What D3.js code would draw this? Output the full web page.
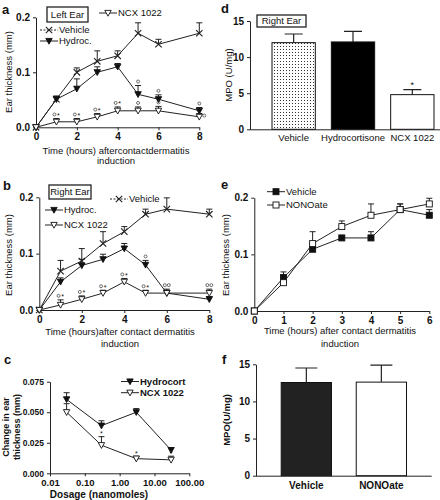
<!DOCTYPE html>
<html><head><meta charset="utf-8">
<script src="https://cdn.jsdelivr.net/npm/d3@7"></script>
<style>body{margin:0;background:#fff} text{font-family:"Liberation Sans",Arial,Helvetica,sans-serif;fill:#111}</style>
</head><body><svg id="c" width="440" height="500"></svg>
<script>
// ---------- DATA ----------
const hoursAB = [0,1,2,3,4,5,6,8];
const aVehicle    = [0,0.051,0.10,0.12,0.13,0.171,0.151,0.171];
const aVehicleErr = [0,0.057,0.108,0.139,0.139,0.19,0.16,0.19];
const aHydro      = [0,0.051,0.07,0.10,0.11,0.06,0.051,0.03];
const aHydroErr   = [0,0.055,0.088,0.11,0.116,0.076,0.059,0.036];
const aNcx        = [0,0.01,0.01,0.019,0.03,0.03,0.03,0.019];
const aNcxErr     = [0,0.016,0.016,0.025,0.037,0.037,0.038,0.025];
const aNcxMarks   = ["","○*","○*","○*","○*","○","○","○"];
const aHydroMarks = ["","","","","","○","○","○"];

const bVehicle    = [0,0.069,0.087,0.118,0.139,0.17,0.179,0.17];
const bVehicleErr = [0,0.088,0.109,0.139,0.148,0.179,0.199,0.179];
const bHydro      = [0,0.05,0.079,0.09,0.109,0.08,0.03,0.019];
const bHydroErr   = [0,0.057,0.09,0.099,0.118,0.088,0.035,0.024];
const bNcx        = [0,0.009,0.019,0.03,0.05,0.03,0.03,0.03];
const bNcxErr     = [0,0.018,0.025,0.035,0.056,0.035,0.037,0.037];
const bNcxMarks   = ["","○*","○*","○*","○*","○*","○○","○○"];
const bHydroMarks = ["","","","","","○","",""];

const dosages     = [0.03,0.3,3,30];
const cHydro      = [0.0605,0.039,0.050,0.019];
const cHydroErr   = [0.066,0.043,0.053,0.021];
const cNcx        = [0.050,0.023,0.012,0.011];
const cNcxErr     = [0.057,0.030,0.014,0.014];
const cNcxMarks   = ["","*","*","*"];

const dCategories = ["Vehicle","Hydrocortisone","NCX 1022"];
const dValues     = [12.0,12.1,4.8];
const dErr        = [13.2,13.55,5.5];
const dMarks      = ["","","*"];

const hoursE      = [0,1,2,3,4,5,6];
const eVehicle    = [0,0.059,0.109,0.129,0.129,0.179,0.169];
const eVehicleErr = [0,0.069,0.112,0.132,0.14,0.189,0.179];
const eNono       = [0,0.05,0.119,0.149,0.169,0.179,0.189];
const eNonoErr    = [0,0.053,0.14,0.159,0.189,0.189,0.199];

const fCategories = ["Vehicle","NONOate"];
const fValues     = [12.55,12.6];
const fErr        = [14.5,14.9];

// ---------- HELPERS ----------
const svg = d3.select("#c");
const defs = svg.append("defs");
const pat = defs.append("pattern").attr("id","dots").attr("width",3).attr("height",3).attr("patternUnits","userSpaceOnUse");
pat.append("rect").attr("width",3).attr("height",3).attr("fill","#fff");
pat.append("rect").attr("x",1).attr("y",1).attr("width",1).attr("height",1).attr("fill","#333");

function marker(g, type, cx, cy) {
  const s = 3.2;
  if (type === "x") {
    g.append("path").attr("d",`M${cx-s},${cy-s}L${cx+s},${cy+s}M${cx-s},${cy+s}L${cx+s},${cy-s}`)
      .attr("stroke","#222").attr("stroke-width",1.1).attr("fill","none");
  } else if (type === "tri" || type === "triOpen") {
    g.append("path").attr("d",`M${cx-s},${cy-s+0.6}L${cx+s},${cy-s+0.6}L${cx},${cy+s}Z`)
      .attr("fill", type==="tri" ? "#111" : "#fff").attr("stroke","#111").attr("stroke-width",0.9);
  } else if (type === "sq" || type === "sqOpen") {
    g.append("rect").attr("x",cx-3).attr("y",cy-3).attr("width",6).attr("height",6)
      .attr("fill", type==="sq" ? "#111" : "#fff").attr("stroke","#111").attr("stroke-width",0.9);
  }
}

function series(g, x, y, xs, ys, errs, type) {
  const line = d3.line().x((d,i)=>x(xs[i])).y(d=>y(d));
  g.append("path").datum(ys).attr("d",line).attr("fill","none").attr("stroke","#222").attr("stroke-width",1);
  ys.forEach((v,i)=>{
    if (errs[i] > v) {
      g.append("path").attr("d",`M${x(xs[i])},${y(v)}V${y(errs[i])}M${x(xs[i])-3},${y(errs[i])}H${x(xs[i])+3}`)
        .attr("stroke","#222").attr("stroke-width",1).attr("fill","none");
    }
  });
  ys.forEach((v,i)=> marker(g, type, x(xs[i]), y(v)));
}

// significance marks: "○" drawn as small circle, "*" as text
function marks(g, x, y, xs, tops, labels, rightLast) {
  labels.forEach((t,i)=>{
    if (!t) return;
    const side = rightLast && i === labels.length-1;
    const chars = Array.from(t);
    const w = chars.length * 4;
    let px = side ? x(xs[i]) + 5 : x(xs[i]) - w/2 + 2;
    const py = side ? y(tops[i]) + 2 : y(tops[i]) - 4;
    chars.forEach(ch=>{
      if (ch === "○") {
        g.append("circle").attr("cx",px).attr("cy",py).attr("r",1.5).attr("fill","none").attr("stroke","#333").attr("stroke-width",0.7);
      } else {
        g.append("text").attr("x",px).attr("y",py+3.5).attr("text-anchor","middle").attr("font-size",7).text(ch);
      }
      px += 4;
    });
  });
}

function styleAxis(sel, size, bold) {
  sel.selectAll("path,line").attr("stroke","#222");
  sel.selectAll("text").attr("font-size",size).attr("font-weight",bold?"bold":"normal").attr("fill","#111")
    .attr("font-family",'"Liberation Sans",Arial,sans-serif');
}

function legendItem(g, type, x0, yy, label, dashed, bold, size) {
  g.append("path").attr("d",`M${x0},${yy}H${x0+18}`).attr("stroke","#222").attr("stroke-width",1)
    .attr("stroke-dasharray", dashed ? "2,1.5" : null);
  marker(g, type, x0+9, yy);
  g.append("text").attr("x",x0+19).attr("y",yy+3.3).attr("font-size",size||9.5)
    .attr("font-weight",bold?"bold":"normal").text(label);
}

function boxLabel(g, x0, y0, w, h, label) {
  g.append("rect").attr("x",x0).attr("y",y0).attr("width",w).attr("height",h)
    .attr("fill","#fff").attr("stroke","#222").attr("stroke-width",1.3);
  g.append("text").attr("x",x0+w/2).attr("y",y0+h/2+3.3).attr("text-anchor","middle").attr("font-size",9.5).text(label);
}

function panelLabel(x0, y0, t) {
  svg.append("text").attr("x",x0).attr("y",y0).attr("font-size",13).attr("font-weight","bold").text(t);
}

// ---------- PANEL a ----------
{
  const g = svg.append("g");
  const x = d3.scaleLinear([0,8],[36,199.3]);
  const y = d3.scaleLinear([0,0.2],[127.3,17.3]);
  g.append("g").attr("transform","translate(0,127.3)").call(d3.axisBottom(x).tickValues([0,2,4,6,8]).tickSize(3).tickSizeOuter(0).tickFormat(d3.format("d")))
    .call(s=>styleAxis(s,10,true));
  g.append("g").attr("transform","translate(36,0)").call(d3.axisLeft(y).tickValues([0,0.1,0.2]).tickSize(3).tickSizeOuter(0).tickFormat(d3.format(".1f")))
    .call(s=>styleAxis(s,10,true));
  series(g,x,y,hoursAB,aVehicle,aVehicleErr,"x");
  series(g,x,y,hoursAB,aHydro,aHydroErr,"tri");
  series(g,x,y,hoursAB,aNcx,aNcxErr,"triOpen");
  marks(g,x,y,hoursAB,aNcxErr,aNcxMarks,true);
  marks(g,x,y,hoursAB,aHydroErr,aHydroMarks,false);
  boxLabel(g,47,7,41,15,"Left Ear");
  legendItem(g,"triOpen",99,13,"NCX 1022",false);
  legendItem(g,"x",40,30,"Vehicle",true);
  legendItem(g,"tri",40,41,"Hydroc.",false);
  g.append("text").attr("transform","translate(12,72)rotate(-90)").attr("text-anchor","middle").attr("font-size",9.5).text("Ear thickness (mm)");
  g.append("text").attr("x",116).attr("y",154).attr("text-anchor","middle").attr("font-size",9.5).text("Time (hours) aftercontactdermatitis");
  g.append("text").attr("x",116).attr("y",164).attr("text-anchor","middle").attr("font-size",9.5).text("induction");
  panelLabel(2,14,"a");
}

// ---------- PANEL b ----------
{
  const g = svg.append("g");
  const x = d3.scaleLinear([0,8],[39.3,209.3]);
  const y = d3.scaleLinear([0,0.2],[310,197.3]);
  g.append("g").attr("transform","translate(0,310)").call(d3.axisBottom(x).tickValues([0,2,4,6,8]).tickSize(3).tickSizeOuter(0).tickFormat(d3.format("d")))
    .call(s=>styleAxis(s,10,true));
  g.append("g").attr("transform","translate(39.3,0)").call(d3.axisLeft(y).tickValues([0,0.1,0.2]).tickSize(3).tickSizeOuter(0).tickFormat(d3.format(".1f")))
    .call(s=>styleAxis(s,10,true));
  series(g,x,y,hoursAB,bVehicle,bVehicleErr,"x");
  series(g,x,y,hoursAB,bHydro,bHydroErr,"tri");
  series(g,x,y,hoursAB,bNcx,bNcxErr,"triOpen");
  marks(g,x,y,hoursAB,bNcxErr,bNcxMarks,false);
  marks(g,x,y,hoursAB,bHydroErr,bHydroMarks,false);
  boxLabel(g,49,185,42,14,"Right Ear");
  legendItem(g,"x",110,199,"Vehicle",true);
  legendItem(g,"tri",45,210,"Hydroc.",false);
  legendItem(g,"triOpen",45,225,"NCX 1022",false);
  g.append("text").attr("transform","translate(12,255)rotate(-90)").attr("text-anchor","middle").attr("font-size",9.5).text("Ear thickness (mm)");
  g.append("text").attr("x",120).attr("y",335).attr("text-anchor","middle").attr("font-size",9.5).text("Time (hours)after contact dermatitis");
  g.append("text").attr("x",120).attr("y",347).attr("text-anchor","middle").attr("font-size",9.5).text("induction");
  panelLabel(3,190,"b");
}

// ---------- PANEL c ----------
{
  const g = svg.append("g");
  const x = d3.scaleLog([0.01,100],[50,189.3]);
  const y = d3.scaleLinear([0,0.075],[473.3,381.7]);
  g.append("g").attr("transform","translate(0,473.3)").call(d3.axisBottom(x).tickValues([0.01,0.1,1,10,100]).tickSize(3).tickSizeOuter(0).tickFormat(d3.format(".2f")))
    .call(s=>styleAxis(s,9.5,true));
  g.append("g").attr("transform","translate(50,0)").call(d3.axisLeft(y).tickValues([0,0.025,0.05,0.075]).tickSize(3).tickSizeOuter(0).tickFormat(d3.format(".3f")))
    .call(s=>styleAxis(s,8.5,true));
  series(g,x,y,dosages,cHydro,cHydroErr,"tri");
  series(g,x,y,dosages,cNcx,cNcxErr,"triOpen");
  marks(g,x,y,dosages,cNcxErr,cNcxMarks,false);
  legendItem(g,"tri",121,381.5,"Hydrocort",false,true,9.5);
  legendItem(g,"triOpen",121,392.7,"NCX 1022",false,true,9.5);
  g.append("text").attr("transform","translate(8.5,427)rotate(-90)").attr("text-anchor","middle").attr("font-size",9).attr("font-weight","bold").text("Change in ear");
  g.append("text").attr("transform","translate(20,427)rotate(-90)").attr("text-anchor","middle").attr("font-size",9).attr("font-weight","bold").text("thickness (mm)");
  g.append("text").attr("x",99).attr("y",498).attr("text-anchor","middle").attr("font-size",10).attr("font-weight","bold").text("Dosage (nanomoles)");
  panelLabel(4,364,"c");
}

// ---------- PANEL d ----------
{
  const g = svg.append("g");
  const x = d3.scaleBand(dCategories,[264,442]).paddingInner(0.27).paddingOuter(0.135);
  const y = d3.scaleLinear([0,15],[129.3,21]);
  dValues.forEach((v,i)=>{
    const c = dCategories[i];
    g.append("rect").attr("x",x(c)).attr("y",y(v)).attr("width",x.bandwidth()).attr("height",y(0)-y(v))
      .attr("fill", i===0 ? "url(#dots)" : (i===1 ? "#000" : "#fff")).attr("stroke","#111").attr("stroke-width",1);
    const cx = x(c)+x.bandwidth()/2;
    g.append("path").attr("d",`M${cx},${y(v)}V${y(dErr[i])}M${cx-9},${y(dErr[i])}H${cx+9}`).attr("stroke","#222").attr("stroke-width",1.2);
    if (dMarks[i]) g.append("text").attr("x",cx).attr("y",y(dErr[i])-2).attr("text-anchor","middle").attr("font-size",9).text(dMarks[i]);
  });
  g.append("g").attr("transform","translate(0,129.3)").call(d3.axisBottom(x).tickSize(0).tickSizeOuter(0).tickPadding(5))
    .call(s=>{ styleAxis(s,9.5,false); s.select(".domain").attr("d","M250,0.5H442.7"); });
  g.append("g").attr("transform","translate(250,0)").call(d3.axisLeft(y).tickValues([0,5,10,15]).tickSize(3).tickSizeOuter(0))
    .call(s=>styleAxis(s,10,true));
  boxLabel(g,257,15,49,12,"Right Ear");
  g.append("text").attr("transform","translate(232,75)rotate(-90)").attr("text-anchor","middle").attr("font-size",9.5).text("MPO (U/mg)");
  panelLabel(221,13,"d");
}

// ---------- PANEL e ----------
{
  const g = svg.append("g");
  const x = d3.scaleLinear([0,6],[254.3,429.3]);
  const y = d3.scaleLinear([0,0.2],[311,197.7]);
  g.append("g").attr("transform","translate(0,311)").call(d3.axisBottom(x).tickValues(hoursE).tickSize(3).tickSizeOuter(0).tickFormat(d3.format("d")))
    .call(s=>styleAxis(s,10,true));
  g.append("g").attr("transform","translate(254.3,0)").call(d3.axisLeft(y).tickValues([0,0.1,0.2]).tickSize(3).tickSizeOuter(0).tickFormat(d3.format(".1f")))
    .call(s=>styleAxis(s,10,true));
  series(g,x,y,hoursE,eVehicle,eVehicleErr,"sq");
  series(g,x,y,hoursE,eNono,eNonoErr,"sqOpen");
  legendItem(g,"sq",267,191.7,"Vehicle",false);
  legendItem(g,"sqOpen",267,205,"NONOate",false);
  g.append("text").attr("transform","translate(229,255)rotate(-90)").attr("text-anchor","middle").attr("font-size",9.5).text("Ear thickness (mm)");
  g.append("text").attr("x",340).attr("y",334).attr("text-anchor","middle").attr("font-size",9.5).text("Time (hours) after contact dermatitis");
  g.append("text").attr("x",340).attr("y",347).attr("text-anchor","middle").attr("font-size",9.5).text("induction");
  panelLabel(221,189,"e");
}

// ---------- PANEL f ----------
{
  const g = svg.append("g");
  const x = d3.scaleBand(fCategories,[256,431.7]).paddingInner(0.33).paddingOuter(0.336);
  const y = d3.scaleLinear([0,15],[475.7,364.3]);
  fValues.forEach((v,i)=>{
    const c = fCategories[i];
    g.append("rect").attr("x",x(c)).attr("y",y(v)).attr("width",x.bandwidth()).attr("height",y(0)-y(v))
      .attr("fill", i===0 ? "#222" : "#fff").attr("stroke","#111").attr("stroke-width",1);
    const cx = x(c)+x.bandwidth()/2;
    g.append("path").attr("d",`M${cx},${y(v)}V${y(fErr[i])}M${cx-11},${y(fErr[i])}H${cx+11}`).attr("stroke","#222").attr("stroke-width",1.2);
  });
  g.append("g").attr("transform","translate(0,475.7)").call(d3.axisBottom(x).tickSize(0).tickSizeOuter(0).tickPadding(6))
    .call(s=>{ styleAxis(s,10,true); s.select(".domain").attr("d","M256,0.5H431.7"); });
  g.append("g").attr("transform","translate(256,0)").call(d3.axisLeft(y).tickValues([0,5,10,15]).tickSize(3).tickSizeOuter(0))
    .call(s=>styleAxis(s,10,true));
  g.append("text").attr("transform","translate(230,420)rotate(-90)").attr("text-anchor","middle").attr("font-size",9.5).attr("font-weight","bold").text("MPO(U/mg)");
  panelLabel(222,364,"f");
}
</script></body></html>
